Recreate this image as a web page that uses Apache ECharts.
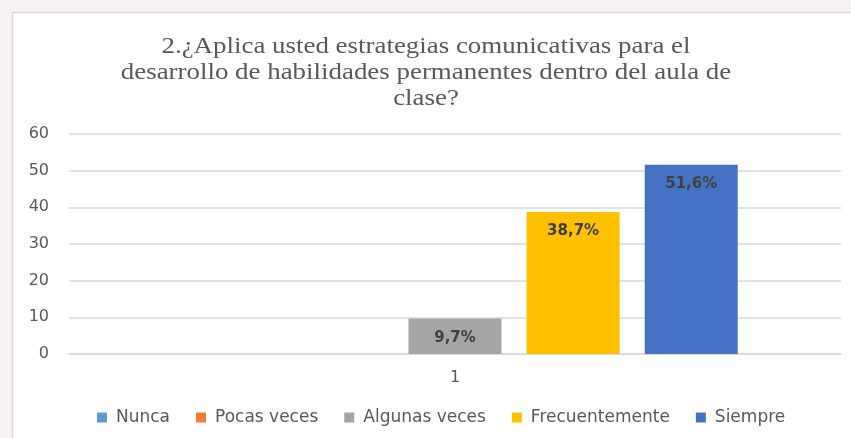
<!DOCTYPE html>
<html lang="es">
<head>
	<meta charset="UTF-8">
	<title>Estrategias comunicativas</title>
	<script src="https://cdn.jsdelivr.net/npm/echarts@6/dist/echarts.min.js"></script>
	<style>
		html, body { margin: 0; padding: 0; }
		.box { width: 851px; height: 438px; }
	</style>
</head>
<body>
	<div class="box" id="main"></div>

	<script>
		// datos
		let titulo = '2.¿Aplica usted estrategias comunicativas para el\ndesarrollo de habilidades permanentes dentro del aula de\nclase?';
		let categorias = ['1'];
		let respuestas = ['Nunca', 'Pocas veces', 'Algunas veces', 'Frecuentemente', 'Siempre'];
		let valores = [0, 0, 9.7, 38.7, 51.6];
		let colores = ['#5b9bd5', '#ed7d31', '#a5a5a5', '#ffc000', '#4472c4'];
		let ticksY = [0, 10, 20, 30, 40, 50, 60];

		let chart = echarts.init(document.getElementById('main'));

		let options = {
			backgroundColor: '#f7f3f3',
			animation: false,
			graphic: [{
				type: 'rect',
				z: -10,
				shape: { x: 12.5, y: 12.5, width: 845, height: 430 },
				style: { fill: '#fff', stroke: '#d9d9d9', lineWidth: 1.5 }
			}, {
				// el titulo original esta estirado a lo ancho
				type: 'text',
				x: 426,
				y: 34,
				scaleX: 1.17,
				style: {
					text: titulo,
					textAlign: 'center',
					textVerticalAlign: 'top',
					font: '23px "Liberation Serif"',
					lineHeight: 26,
					fill: '#595959'
				}
			}],
			legend: {
				bottom: 7,
				left: 92,
				itemWidth: 10,
				itemHeight: 10,
				itemGap: 26,
				icon: 'rect',
				textStyle: { fontFamily: 'DejaVu Sans', fontSize: 17, color: '#595959', padding: [0, 0, 0, 4] },
				data: respuestas
			},
			grid: { left: 69, right: 10, top: 134, height: 220, containLabel: false },
			xAxis: {
				type: 'category',
				data: categorias,
				axisLine: { lineStyle: { color: '#d9d9d9', width: 1.5 } },
				axisTick: { show: false },
				axisLabel: { fontFamily: 'DejaVu Sans', fontSize: 16, color: '#595959', margin: 16 }
			},
			yAxis: {
				type: 'value',
				min: ticksY[0],
				max: ticksY[ticksY.length - 1],
				interval: 10,
				axisLine: { show: false },
				axisTick: { show: false },
				splitLine: { lineStyle: { color: '#d9d9d9', width: 1.5 } },
				axisLabel: { fontFamily: 'DejaVu Sans', fontSize: 16, color: '#595959', margin: 20 }
			},
			series: respuestas.map((nombre, i) => {
				return {
					name: nombre,
					type: 'bar',
					barWidth: 93,
					barGap: '27%',
					itemStyle: { color: colores[i] },
					label: {
						show: valores[i] > 0,
						position: 'insideTop',
						distance: 12,
						fontFamily: 'DejaVu Sans',
						fontWeight: 'bold',
						fontSize: 15,
						color: '#404040',
						formatter: p => p.value.toFixed(1).replace('.', ',') + '%'
					},
					data: [valores[i]]
				};
			})
		};
		chart.setOption(options);
	</script>
</body>
</html>
